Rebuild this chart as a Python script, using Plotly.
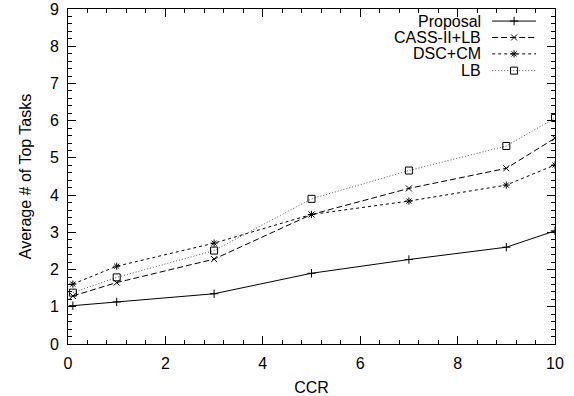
import plotly.graph_objects as go

ccr = [0.1, 1, 3, 5, 7, 9, 10]
proposal = [1.03, 1.13, 1.35, 1.90, 2.27, 2.60, 3.04]
cass_lb = [1.29, 1.65, 2.28, 3.48, 4.18, 4.72, 5.53]
dsc_cm = [1.61, 2.09, 2.71, 3.48, 3.84, 4.27, 4.81]
lb = [1.38, 1.79, 2.51, 3.90, 4.66, 5.32, 6.07]

series_names = ["Proposal", "CASS-II+LB", "DSC+CM", "LB"]
series_values = [proposal, cass_lb, dsc_cm, lb]
dashes = ["solid", "6px,3px", "3px,3px", "1px,2px"]
colors = ["#000000", "#000000", "#000000", "#555555"]
symbols = ["cross-thin", "x-thin", "asterisk-open", "square-open"]
msizes = [6, 6, 6, 7]

FONT = "Liberation Sans, Arial, sans-serif"
FS = 16
fig = go.Figure()

for name, vals, d, c, s, ms in zip(series_names, series_values, dashes, colors, symbols, msizes):
    fig.add_trace(go.Scatter(
        x=ccr, y=vals, name=name, mode="lines+markers",
        line=dict(color=c, width=1, dash=d),
        marker=dict(symbol=s, size=ms, color="#000000", line=dict(color="#000000", width=1)),
        showlegend=False,
    ))

# gnuplot-style legend (label right-aligned, sample to the right) on an overlay axis
leg_y = [0.964, 0.915, 0.866, 0.816]
for name, d, c, s, ms, yy in zip(series_names, dashes, colors, symbols, msizes, leg_y):
    fig.add_trace(go.Scatter(
        x=[0.871, 0.916, 0.961], y=[yy, yy, yy], xaxis="x2", yaxis="y2",
        mode="lines", line=dict(color=c, width=1, dash=d),
        showlegend=False, hoverinfo="skip",
    ))
    fig.add_trace(go.Scatter(
        x=[0.916], y=[yy], xaxis="x2", yaxis="y2", mode="markers",
        marker=dict(symbol=s, size=ms, color="#000000", line=dict(color="#000000", width=1)),
        showlegend=False, hoverinfo="skip",
    ))
    fig.add_annotation(x=0.853, y=yy, xref="x2", yref="y2", text=name, showarrow=False,
                       xanchor="right", yanchor="middle", font=dict(family=FONT, size=FS, color="#000"))

axis_common = dict(
    showline=True, linecolor="#000", linewidth=1, mirror="allticks",
    ticks="inside", ticklen=8, tickcolor="#000", tickwidth=1,
    showgrid=False, zeroline=False, automargin=False, ticklabelstandoff=5,
    tickfont=dict(family=FONT, size=FS, color="#000"),
)

fig.update_layout(
    width=574, height=396,
    margin=dict(l=68, r=19, t=9, b=52),
    paper_bgcolor="white", plot_bgcolor="white",
    font=dict(family=FONT, size=FS, color="#000"),
    xaxis=dict(range=[0, 10], dtick=2, tick0=0,
               title=dict(text="CCR", font=dict(family=FONT, size=FS), standoff=10),
               minor=dict(ticks="inside", dtick=0.4, ticklen=4, tickcolor="#000", showgrid=False),
               **axis_common),
    yaxis=dict(range=[0, 9], dtick=1, tick0=0,
               title=dict(text="Average # of Top Tasks", font=dict(family=FONT, size=FS), standoff=14),
               minor=dict(ticks="inside", dtick=0.2, ticklen=4, tickcolor="#000", showgrid=False),
               **axis_common),
    xaxis2=dict(range=[0, 1], overlaying="x", visible=False, fixedrange=True),
    yaxis2=dict(range=[0, 1], overlaying="y", visible=False, fixedrange=True, anchor="x2"),
)

fig.write_html("out.html", config={"displayModeBar": False},
               post_script="document.body.style.margin='0';")
